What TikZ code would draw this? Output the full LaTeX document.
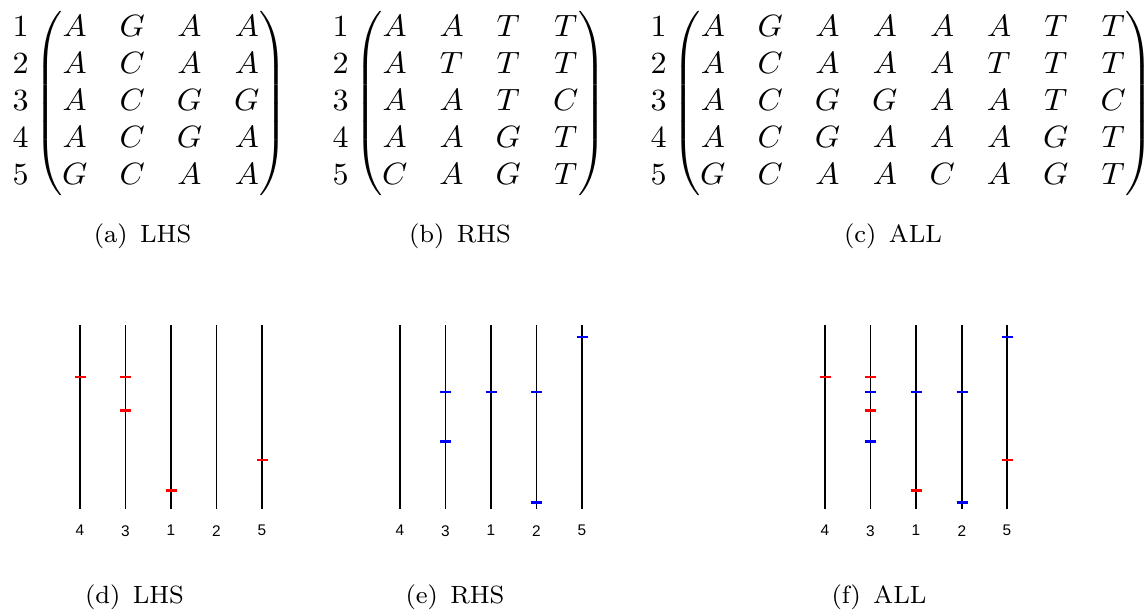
\documentclass[tikz,border=0pt]{standalone}
\usepackage{amsmath}
\usepackage{fontspec}
\newfontfamily\plotfont{Liberation Sans}
\usepackage{tikz}
\usetikzlibrary{positioning}

\newcommand{\hit}[3]{\draw[#1] (#2,#3) ++(-5.5,0) -- ++(11,0);}

\begin{document}
\begin{tikzpicture}[
  x=0.3247pt, y=-0.3247pt,
  every node/.style={inner sep=0pt},
  strip/.style={line width=0.62pt},
  lab/.style={font=\plotfont\fontsize{5}{6}\selectfont},
  subcap/.style={font=\fontsize{8.1}{10}\selectfont},
  mat/.style={anchor=west,xscale=1.043},
  lhs/.style={red,line width=0.7pt},
  rhs/.style={blue,line width=0.7pt}
]
  \useasboundingbox (0,0) rectangle (1144,612);

  % matrices
  \node[mat] (lhsmat) at (12,103.5) {$\begin{matrix}1\\2\\3\\4\\5\end{matrix}
    \begin{pmatrix}A&G&A&A\\A&C&A&A\\A&C&G&G\\A&C&G&A\\G&C&A&A\end{pmatrix}$};
  \node[mat] (rhsmat) at (332,103.5) {$\begin{matrix}1\\2\\3\\4\\5\end{matrix}
    \begin{pmatrix}A&A&T&T\\A&T&T&T\\A&A&T&C\\A&A&G&T\\C&A&G&T\end{pmatrix}$};
  \node[mat] (allmat) at (650,103.5) {$\begin{matrix}1\\2\\3\\4\\5\end{matrix}
    \begin{pmatrix}A&G&A&A&A&A&T&T\\A&C&A&A&A&T&T&T\\A&C&G&G&A&A&T&C\\
    A&C&G&A&A&A&G&T\\G&C&A&A&C&A&G&T\end{pmatrix}$};

  \node[subcap] (capa) at (142.5,236) {(a)\hspace{0.5em}LHS};
  \node[subcap] (capb) at (460,236) {(b)\hspace{0.5em}RHS};
  \node[subcap] (capc) at (893,236) {(c)\hspace{0.5em}ALL};

  % strips
  \foreach \x/\n in {80/4,125.5/3,171/1,216.5/2,262/5}
    \draw[strip] (\x,325) -- (\x,509) node[lab,below=5pt] (d\n) {\n};
  \foreach \x/\n in {400/4,445.5/3,491/1,536.5/2,582/5}
    \draw[strip] (\x,325) -- (\x,509) node[lab,below=5pt] (e\n) {\n};
  \foreach \x/\n in {825/4,870.5/3,916/1,962/2,1007/5}
    \draw[strip] (\x,325) -- (\x,509) node[lab,below=5pt] (f\n) {\n};

  % LHS hits
  \hit{lhs}{80}{377} \hit{lhs}{125.5}{377} \hit{lhs}{125.5}{410.5}
  \hit{lhs}{171}{490.5} \hit{lhs}{262}{460}
  % RHS hits
  \hit{rhs}{445.5}{392} \hit{rhs}{445.5}{441.5} \hit{rhs}{491}{392}
  \hit{rhs}{536.5}{392} \hit{rhs}{536.5}{502.5} \hit{rhs}{582}{337}
  % ALL hits
  \hit{lhs}{825}{377} \hit{lhs}{870.5}{377} \hit{rhs}{870.5}{392}
  \hit{lhs}{870.5}{410.5} \hit{rhs}{870.5}{441.5}
  \hit{rhs}{916}{392} \hit{lhs}{916}{490.5}
  \hit{rhs}{962}{392} \hit{rhs}{962}{502.5}
  \hit{rhs}{1007}{337} \hit{lhs}{1007}{460}

  \node[subcap] (capd) at (134.5,597) {(d)\hspace{0.5em}LHS};
  \node[subcap] (cape) at (455,597) {(e)\hspace{0.5em}RHS};
  \node[subcap] (capf) at (879,597) {(f)\hspace{0.5em}ALL};
\end{tikzpicture}
\end{document}
